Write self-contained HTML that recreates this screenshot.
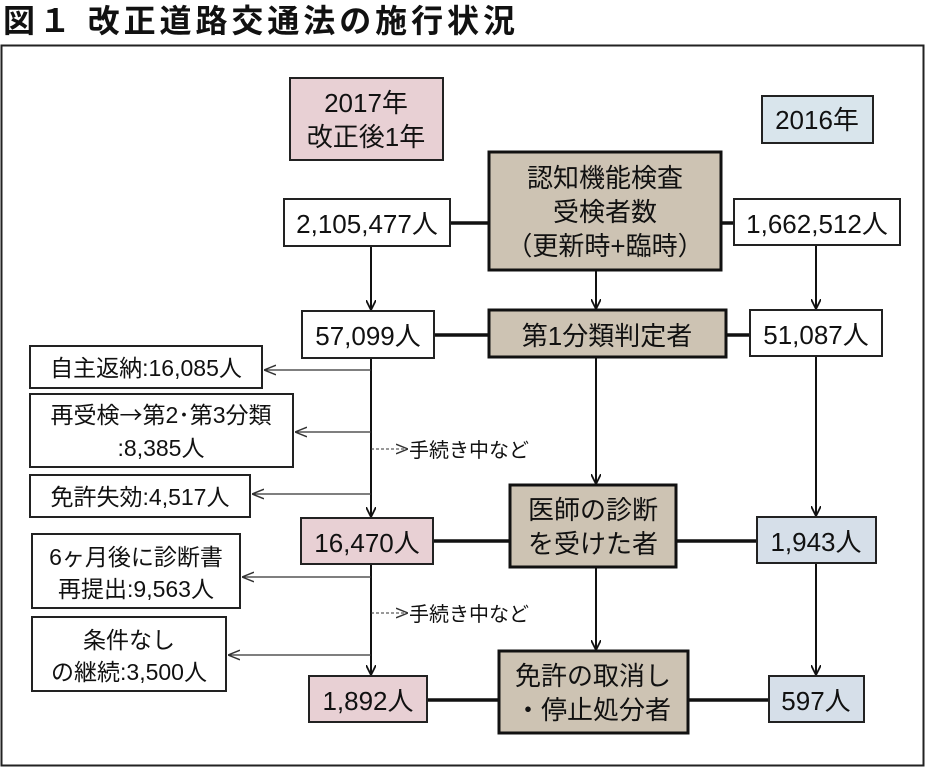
<!DOCTYPE html>
<html><head><meta charset="utf-8"><style>
html,body{margin:0;padding:0;background:#fff;}
svg{display:block;}
text{font-family:"Liberation Sans","Noto Sans CJK JP",sans-serif;fill:#111;}
</style></head><body>
<svg width="929" height="768" viewBox="0 0 929 768" xmlns="http://www.w3.org/2000/svg">
<defs>
<marker id="a" viewBox="0 0 10 10" refX="10" refY="5" markerWidth="10" markerHeight="10" markerUnits="userSpaceOnUse" orient="auto"><path d="M0,0 L10,5 L0,10" fill="none" stroke="#111" stroke-width="1.8"/></marker>
<marker id="b" viewBox="0 0 10 10" refX="10" refY="5" markerWidth="12" markerHeight="12" markerUnits="userSpaceOnUse" orient="auto"><path d="M0,1 L10,5 L0,9" fill="none" stroke="#333" stroke-width="1.2"/></marker>
</defs>
<text x="3" y="32" font-size="32" font-weight="bold" font-family="'Noto Sans CJK JP',sans-serif" textLength="512" lengthAdjust="spacing">図１ 改正道路交通法の施行状況</text>
<rect x="1.5" y="45.5" width="922" height="720" fill="none" stroke="#222" stroke-width="2"/>

<g stroke="#111" stroke-width="3.5">
<line x1="450" y1="223" x2="489" y2="223"/><line x1="721" y1="223" x2="734" y2="223"/>
<line x1="434" y1="335" x2="489" y2="335"/><line x1="726" y1="335" x2="750" y2="335"/>
<line x1="433" y1="541" x2="510" y2="541"/><line x1="676" y1="541" x2="757" y2="541"/>
<line x1="427" y1="700" x2="499" y2="700"/><line x1="688" y1="700" x2="769" y2="700"/>
</g>
<g stroke="#111" stroke-width="2" fill="none">
<line x1="371" y1="246" x2="371" y2="310" marker-end="url(#a)"/>
<line x1="371" y1="358" x2="371" y2="517" marker-end="url(#a)"/>
<line x1="371" y1="564" x2="371" y2="675" marker-end="url(#a)"/>
<line x1="596" y1="270" x2="596" y2="309" marker-end="url(#a)"/>
<line x1="596" y1="357" x2="596" y2="484" marker-end="url(#a)"/>
<line x1="596" y1="567" x2="596" y2="650" marker-end="url(#a)"/>
<line x1="816" y1="245" x2="816" y2="309" marker-end="url(#a)"/>
<line x1="816" y1="356" x2="816" y2="516" marker-end="url(#a)"/>
<line x1="816" y1="563" x2="816" y2="675" marker-end="url(#a)"/>
</g>
<g stroke="#333" stroke-width="1.3" fill="none">
<line x1="371" y1="370" x2="264" y2="370" marker-end="url(#b)"/>
<line x1="371" y1="432" x2="295" y2="432" marker-end="url(#b)"/>
<line x1="371" y1="494" x2="252" y2="494" marker-end="url(#b)"/>
<line x1="371" y1="577" x2="242" y2="577" marker-end="url(#b)"/>
<line x1="371" y1="655" x2="228" y2="655" marker-end="url(#b)"/>
<line x1="371" y1="449" x2="408" y2="449" stroke-dasharray="3,2" stroke-width="1" marker-end="url(#b)"/>
<line x1="371" y1="613" x2="408" y2="613" stroke-dasharray="3,2" stroke-width="1" marker-end="url(#b)"/>
</g>
<text x="409" y="457" font-size="20">手続き中など</text>
<text x="409" y="621" font-size="20">手続き中など</text>

<g stroke="#222" stroke-width="2">
<rect x="290" y="78" width="153" height="82" fill="#e8d0d4"/>
<rect x="762" y="96" width="111" height="47" fill="#d9e5ec"/>
<rect x="284" y="199" width="166" height="47" fill="#fff"/>
<rect x="734" y="199" width="166" height="46" fill="#fff"/>
<rect x="302" y="311" width="132" height="47" fill="#fff"/>
<rect x="750" y="310" width="132" height="46" fill="#fff"/>
<rect x="30" y="346" width="232" height="42" fill="#fff"/>
<rect x="30" y="394" width="263" height="73" fill="#fff"/>
<rect x="30" y="475" width="220" height="42" fill="#fff"/>
<rect x="301" y="518" width="132" height="46" fill="#e8d0d4"/>
<rect x="757" y="517" width="119" height="46" fill="#d6dfe9"/>
<rect x="32" y="534" width="208" height="74" fill="#fff"/>
<rect x="32" y="617" width="194" height="74" fill="#fff"/>
<rect x="309" y="676" width="118" height="46" fill="#e8d0d4"/>
<rect x="769" y="676" width="95" height="46" fill="#d6dfe9"/>
</g>
<g stroke="#111" stroke-width="3" fill="#cdc3b3">
<rect x="489" y="152" width="232" height="118"/>
<rect x="489" y="310" width="237" height="47"/>
<rect x="510" y="485" width="166" height="82"/>
<rect x="499" y="651" width="189" height="82"/>
</g>

<g font-size="26" text-anchor="middle">
<text x="366" y="112">2017年</text>
<text x="366" y="146">改正後1年</text>
<text x="817" y="129">2016年</text>
<text x="605" y="187">認知機能検査</text>
<text x="605" y="221">受検者数</text>
<text x="605" y="255">（更新時+臨時）</text>
<text x="367" y="233">2,105,477人</text>
<text x="817" y="233">1,662,512人</text>
<text x="368" y="345">57,099人</text>
<text x="607" y="345">第1分類判定者</text>
<text x="816" y="344">51,087人</text>
<text x="593" y="519">医師の診断</text>
<text x="593" y="553">を受けた者</text>
<text x="367" y="552">16,470人</text>
<text x="816" y="551">1,943人</text>
<text x="593" y="685">免許の取消し</text>
<text x="593" y="719">・停止処分者</text>
<text x="368" y="710">1,892人</text>
<text x="816" y="710">597人</text>
</g>
<g font-size="23" text-anchor="middle">
<text x="146" y="376">自主返納:16,085人</text>
<text x="161" y="423">再受検<tspan font-family="'Noto Sans CJK JP',sans-serif">→</tspan>第2･第3分類</text>
<text x="161" y="456">:8,385人</text>
<text x="140" y="505">免許失効:4,517人</text>
<text x="136" y="565">6ヶ月後に診断書</text>
<text x="136" y="597">再提出:9,563人</text>
<text x="129" y="648">条件なし</text>
<text x="129" y="680">の継続:3,500人</text>
</g>
</svg>
</body></html>
